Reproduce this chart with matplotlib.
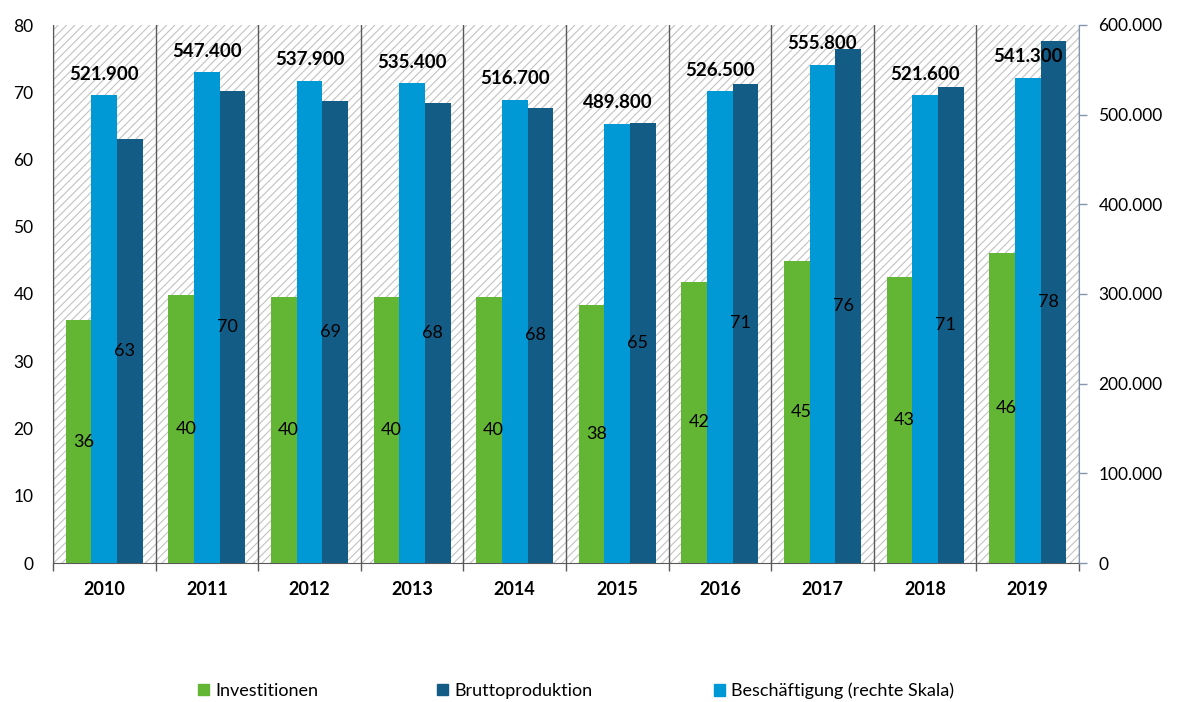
import matplotlib
matplotlib.use("Agg")
import matplotlib.pyplot as plt
import numpy as np
from matplotlib.patches import Rectangle, Patch
from matplotlib.ticker import FuncFormatter

plt.rcParams['font.family'] = ['Lato', 'DejaVu Sans']
plt.rcParams['hatch.linewidth'] = 0.8
plt.rcParams['hatch.color'] = '#c2c2c2'

years = ['2010', '2011', '2012', '2013', '2014', '2015', '2016', '2017', '2018', '2019']
investitionen = [36.1, 39.9, 39.6, 39.6, 39.6, 38.4, 41.8, 44.9, 42.6, 46.1]
bruttoproduktion = [63.0, 70.2, 68.7, 68.4, 67.7, 65.4, 71.3, 76.4, 70.8, 77.6]
beschaeftigung = [521900, 547400, 537900, 535400, 516700, 489800, 526500, 555800, 521600, 541300]

c_green = '#63b634'
c_dark = '#135c85'
c_light = '#0099d5'

fig = plt.figure(figsize=(11.78, 7.02), dpi=100)
ax = fig.add_axes([53/1178, 1 - 563/702, (1079 - 53)/1178, (563 - 25)/702])
ax2 = ax.twinx()

x = np.arange(len(years))
w = 0.25

# hatched background
ax.add_patch(Rectangle((0, 0), 1, 1, transform=ax.transAxes, facecolor='white',
                       edgecolor='#c2c2c2', hatch='////', linewidth=0, zorder=0))

b1 = ax.bar(x - w, investitionen, w, color=c_green, zorder=3)
b3 = ax.bar(x + w, bruttoproduktion, w, color=c_dark, zorder=3)
ax.set_zorder(1)
ax2.set_zorder(2)
ax.patch.set_visible(False)
b2 = ax2.bar(x, beschaeftigung, w, color=c_light, zorder=3)

# separators
for b in np.arange(-0.5, len(years), 1.0):
    ax.axvline(b, color='#595959', lw=1.0, zorder=1)

ax.set_xlim(-0.5, len(years) - 0.5)
ax.set_ylim(0, 80)
ax2.set_ylim(0, 600000)
ax.set_yticks(range(0, 81, 10))
ax2.set_yticks(range(0, 600001, 100000))
ax2.yaxis.set_major_formatter(FuncFormatter(lambda v, p: '0' if v == 0 else f'{int(v):,}'.replace(',', '.')))

ax.set_xticks(x)
ax.set_xticklabels(years, fontweight='bold', fontsize=13)
ax.set_xticks(np.arange(-0.5, len(years), 1.0), minor=True)
ax.tick_params(axis='x', which='major', length=0, pad=13)
ax.tick_params(axis='x', which='minor', length=6, color='#595959', width=1)
ax.tick_params(axis='y', length=0, labelsize=12.5, pad=14)
ax2.tick_params(axis='y', length=6, color='#8497b0', labelsize=12.5, pad=8, width=1)

for s in ['top']:
    ax.spines[s].set_visible(False)
    ax2.spines[s].set_visible(False)
ax.spines['left'].set_color('#595959')
ax.spines['bottom'].set_color('#595959')
ax2.spines['left'].set_visible(False)
ax2.spines['bottom'].set_visible(False)
ax.spines['right'].set_visible(False)
ax2.spines['right'].set_color('#8497b0')

for i in range(len(years)):
    # drawn on ax2 (top layer) but positioned in primary-axis data coordinates
    ax2.text(x[i] - w + 0.045, investitionen[i] / 2, f'{investitionen[i]:.0f}', ha='center', va='center',
             fontsize=13, zorder=5, transform=ax.transData)
    ax2.text(x[i] + w - 0.05, bruttoproduktion[i] / 2, f'{bruttoproduktion[i]:.0f}', ha='center', va='center',
             fontsize=13, zorder=5, transform=ax.transData)
    ax2.annotate(f'{beschaeftigung[i]:,}'.replace(',', '.'), (x[i], beschaeftigung[i]),
                 xytext=(0, 15), textcoords='offset points', ha='center', va='center',
                 fontsize=13.5, fontweight='bold', zorder=6)

labels = ['Investitionen', 'Bruttoproduktion', 'Beschäftigung (rechte Skala)']
colors = [c_green, c_dark, c_light]
square_x = [198, 437, 714]
for lab, col, sx in zip(labels, colors, square_x):
    fig.legend([Patch(color=col)], [lab], loc='center left',
               bbox_to_anchor=(sx / 1178, 1 - 691/702), frameon=False, fontsize=13,
               handlelength=0.6, handleheight=0.6, handletextpad=0.35,
               borderpad=0, borderaxespad=0)

fig.savefig('out.png', dpi=100)
